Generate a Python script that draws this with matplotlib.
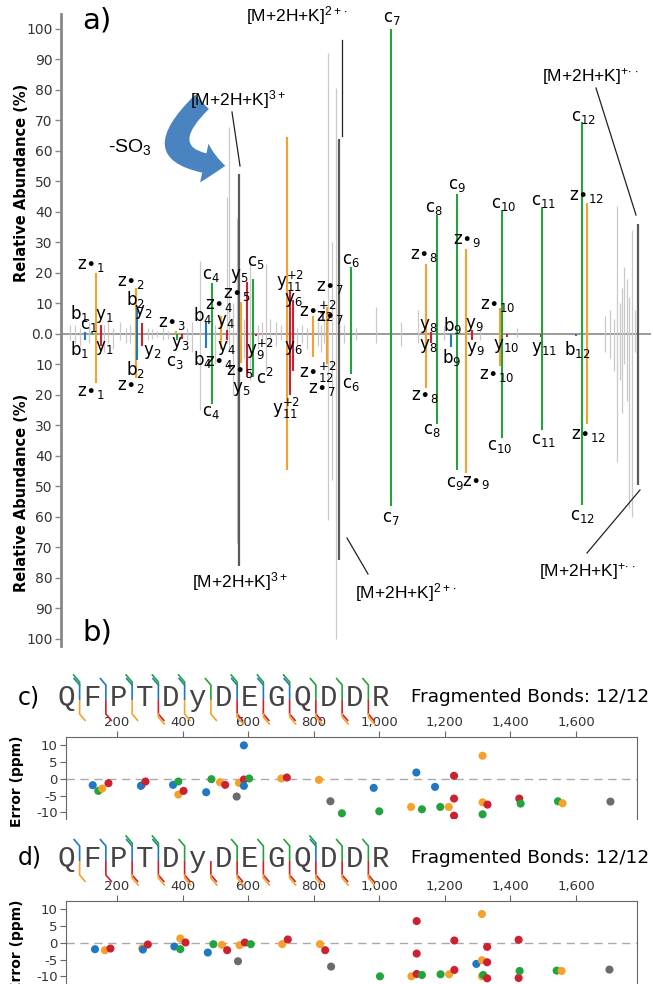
import numpy as np
import matplotlib.pyplot as plt
from matplotlib.patches import FancyArrowPatch

plt.rcParams['font.family'] = ['DejaVu Sans']
plt.rcParams['mathtext.default'] = 'regular'

# ion type colours
COL = {'b': '#1f78c1', 'c': '#22a33c', 'y': '#cc2131', 'z': '#f7a12d'}
GRAY = '#c9c9c9'
DARK = '#5a5a5a'

# ---- a) / b) mirrored spectrum (m/z, relative abundance) ----
ion_mz = [130, 150, 161, 175, 275, 278, 292, 389, 392, 406, 474, 491, 517, 534,
          574, 591, 608, 616, 705, 713, 722, 779, 818, 887, 1000, 1100, 1114, 1131,
          1171, 1188, 1214, 1231, 1311, 1316, 1330, 1427, 1430, 1527, 1544, 1558]
ion_type = ['b', 'c', 'z', 'y', 'z', 'b', 'y', 'z', 'c', 'y', 'b', 'c', 'z', 'y',
            'z', 'y', 'c', 'y', 'z', 'y', 'y', 'z', 'z', 'c', 'c', 'z', 'y', 'c',
            'b', 'c', 'z', 'y', 'z', 'c', 'y', 'y', 'c', 'b', 'c', 'z']
ion_top = [0.5, 0.5, 20, 3, 15, 8.5, 3.5, 1, 0, 0, 4, 16.7, 6, 1.2,
           10.5, 17, 18, 0, 64.5, 14.5, 11, 6, 9, 22, 100, 23, 0.8, 39,
           0, 46, 28, 1.2, 8.5, 40.5, 0, 0, 41.5, 0, 69.5, 43]
ion_bot = [-2, 0, -16, -4, -14.5, -8.5, -4, 0, -2, -1.5, -4.5, -23, -5, -2,
           -9.5, -14, -14, -0.6, -44.5, -20, -12, -7.5, -10, -13, -56.5, -17.7, -3, -29.5,
           -4.3, -44.5, -45.5, -2, -10.5, -34, -1, -1, -31.5, -0.8, -56, -29.5]

prec_mz = [568, 852, 1703]
prec_top = [52.5, 64, 36]
prec_bot = [-76, -74, -49.5]

noise_mz = [87, 101, 116, 141, 184, 195, 210, 229, 247, 258, 309, 320, 335, 352, 366,
            420, 434, 457, 500, 534, 540, 551, 562, 582, 599, 622, 633, 645, 656, 673,
            687, 733, 747, 761, 793, 801, 810, 821, 833, 844, 867, 901, 958, 1029, 1077,
            1151, 1254, 1359, 1609, 1624, 1635, 1644, 1652, 1658, 1663, 1672, 1678, 1686, 1695]
noise_top = [3, 3, 2, 4, 3, 5, 2, 4, 2, 3, 2, 1.5, 1, 2, 1,
             2, 4, 24, 3, 45, 68, 10, 38, 5, 23, 3, 4, 23, 5, 4,
             3, 2, 3, 2, 4, 3, 5, 92, 30, 80.6, 3, 2, 9, 4, 8,
             3, 2, 2, 6, 8, 5, 42, 10, 15, 22, 18, 12, 34, 8]
noise_bot = [-2, -3, -4, -3, -6, -3, -5, -2, -3, -3, -2, -1.5, -1, -2, -1.5,
             -2, -6, -25, -10, -3, -5, -20, -68.5, -8, -15, -5, -3, -12, -4, -4,
             -2, -4, -3, -5, -4, -6, -3, -61, -48, -100, -3, -2, -3, -4, -3,
             -2, -2, -1, -6, -8, -12, -42, -15, -26, -10, -22, -57, -60, -6]

# ---- c) / d) sequence coverage ----
sequence = list('QFPTDyDEGQDDR')
c_nterm = ['cb', 'b', 'cb', 'cb', 'cb', 'c', 'cb', 'cb', 'cb', 'c', 'c', 'c']
c_cterm = ['z', 'y', 'z', 'yz', 'z', 'z', 'yz', 'yz', 'yz', 'yz', 'yz', 'yz']
d_nterm = ['b', 'b', 'cb', 'cb', 'c', '', 'c', 'c', 'c', 'cb', 'c', 'c']
d_cterm = ['z', 'y', 'yz', 'yz', 'yz', 'yz', 'yz', 'yz', 'yz', 'yz', 'yz', 'yz']

# ---- mass errors (m/z, ppm, ion type; 'p' = precursor) ----
c_err_mz = [126, 143, 155, 174, 276, 273, 287, 371, 387, 387, 403, 472, 488, 514, 530,
            565, 572, 587, 587, 587, 603, 701, 718, 816, 851, 886, 983, 1000, 1097, 1113,
            1130, 1170, 1186, 1212, 1228, 1228, 1228, 1315, 1315, 1315, 1330, 1427, 1431,
            1545, 1559, 1705]
c_err_ppm = [-1.9, -3.6, -2.9, -1.3, -1.8, -2.1, -0.8, -1.8, -4.7, -0.8, -3.6, -4.0, -0.1, -1.0, -1.8,
             -5.3, -1.2, -0.2, -2.1, 10.0, 0.1, 0.1, 0.4, -0.3, -6.7, -10.3, -2.7, -9.7, -8.4, 1.9,
             -9.1, -2.4, -8.4, -8.4, 0.9, -5.9, -11.0, 6.9, -7.0, -10.6, -7.7, -5.9, -7.4,
             -6.7, -7.3, -6.8]
c_err_type = ['b', 'c', 'z', 'y', 'z', 'b', 'y', 'b', 'z', 'c', 'y', 'b', 'c', 'z', 'y',
              'p', 'z', 'y', 'b', 'b', 'c', 'z', 'y', 'z', 'p', 'c', 'b', 'c', 'z', 'b',
              'c', 'b', 'c', 'z', 'y', 'y', 'y', 'z', 'z', 'c', 'y', 'y', 'c',
              'c', 'z', 'p']

d_err_mz = [133, 163, 180, 277, 279, 294, 375, 393, 393, 409, 477, 494, 520, 536, 569,
            574, 590, 608, 704, 721, 819, 835, 853, 1002, 1098, 1114, 1114, 1114, 1130, 1187,
            1213, 1229, 1229, 1296, 1313, 1313, 1313, 1317, 1329, 1329, 1329, 1425, 1425, 1428,
            1541, 1556, 1702]
d_err_ppm = [-1.9, -2.2, -1.7, -1.6, -2.0, -0.5, -1.1, 1.3, -1.9, 0.1, -2.9, -0.4, -0.6, -2.2, -5.5,
             -0.7, 0.1, -0.4, -0.4, 1.0, -0.4, -2.2, -7.1, -10.0, -10.0, 6.5, -3.2, -9.3, -9.6, -9.4,
             -9.4, -8.1, 0.7, -6.3, 8.6, -5.2, -10.0, -9.6, -1.2, -5.8, -10.6, 0.9, -10.5, -8.4,
             -8.3, -8.4, -8.0]
d_err_type = ['b', 'z', 'y', 'z', 'b', 'y', 'b', 'z', 'c', 'y', 'b', 'c', 'z', 'y', 'p',
              'z', 'y', 'c', 'z', 'y', 'z', 'y', 'p', 'c', 'z', 'y', 'y', 'y', 'c', 'c',
              'z', 'y', 'y', 'b', 'z', 'z', 'z', 'c', 'y', 'y', 'y', 'y', 'y', 'c',
              'c', 'z', 'p']

err_ticks = [200, 400, 600, 800, 1000, 1200, 1400, 1600]


def zl(n):
    return r'z$\bullet_{%s}$' % n


def il(t, n):
    return r'%s$_{%s}$' % (t, n)


# peak labels (text, x px, y px)
peak_labels = [
    (zl('1'), 91, 265), (zl('1'), 91, 392), (il('b', '1'), 80, 313), (il('b', '1'), 80, 350),
    (il('c', '1'), 89, 325), (il('y', '1'), 104, 316), (il('y', '1'), 104, 348),
    (zl('2'), 131, 282), (zl('2'), 131, 386), (il('b', '2'), 135, 300), (il('b', '2'), 135, 370),
    (il('y', '2'), 143, 312), (il('y', '2'), 152, 352), (zl('3'), 172, 323),
    (il('y', '3'), 180, 344), (il('c', '3'), 175, 362),
    (il('b', '4'), 203, 316), (il('b', '4'), 203, 360), (il('c', '4'), 211, 275), (il('c', '4'), 211, 412),
    (zl('4'), 219, 305), (zl('4'), 219, 362), (il('y', '4'), 225, 322), (il('y', '4'), 226, 348),
    (zl('5'), 237, 294), (zl('5'), 240, 371), (il('y', '5'), 239, 276), (il('y', '5'), 241, 389),
    (il('c', '5'), 256, 262), (r'c$^{2}$', 265, 378), (r'y$_{9}^{+2}$', 260, 349),
    (r'y$_{11}^{+2}$', 290, 281), (r'y$_{11}^{+2}$', 286, 408),
    (il('y', '6'), 293, 300), (il('y', '6'), 293, 348),
    (r'z$\bullet_{12}^{+2}$', 318, 311), (r'z$\bullet_{12}^{+2}$', 318, 372),
    (zl('7'), 330, 287), (zl('7'), 330, 317), (zl('7'), 322, 389),
    (il('c', '6'), 351, 260), (il('c', '6'), 351, 384),
    (il('c', '7'), 392, 18), (il('c', '7'), 391, 518),
    (zl('8'), 424, 255), (zl('8'), 425, 396), (il('y', '8'), 428, 326), (il('y', '8'), 428, 346),
    (il('c', '8'), 434, 208), (il('c', '8'), 432, 430),
    (il('b', '9'), 453, 326), (il('b', '9'), 452, 358),
    (il('c', '9'), 457, 185), (il('c', '9'), 455, 483),
    (il('y', '9'), 474, 325), (il('y', '9'), 475, 349),
    (zl('9'), 467, 240), (zl('9'), 476, 482),
    (il('c', '10'), 504, 204), (il('c', '10'), 500, 446),
    (zl('10'), 498, 305), (zl('10'), 497, 375), (il('y', '10'), 506, 346),
    (il('c', '11'), 544, 201), (il('c', '11'), 544, 440), (il('y', '11'), 544, 349),
    (il('b', '12'), 577, 349), (il('c', '12'), 583, 117), (il('c', '12'), 582, 516),
    (zl('12'), 586, 196), (zl('12'), 588, 435),
]

prec_labels = [
    (r'[M+2H+K]$^{2+\!\bullet}$', 297, 16), (r'[M+2H+K]$^{3+}$', 238, 100),
    (r'[M+2H+K]$^{+\!\bullet\!\bullet}$', 590, 77), (r'[M+2H+K]$^{3+}$', 240, 582),
    (r'[M+2H+K]$^{2+\!\bullet}$', 406, 593), (r'[M+2H+K]$^{+\!\bullet\!\bullet}$', 587, 572),
]
leaders = [((232, 112), (240, 166)), ((342, 40), (342, 136)), ((596, 88), (636, 215)),
           ((347, 538), (368, 574)), ((640, 490), (587, 553))]

fig = plt.figure(figsize=(6.53, 9.84), dpi=100)

# main mirrored spectrum
ax = fig.add_axes([61 / 653, (984 - 646) / 984, 590 / 653, 632 / 984])
ax.vlines(noise_mz, 0, noise_top, color=GRAY, lw=0.9)
ax.vlines(noise_mz, noise_bot, 0, color=GRAY, lw=0.9)
ax.vlines(prec_mz, 0, prec_top, color=DARK, lw=1.6)
ax.vlines(prec_mz, prec_bot, 0, color=DARK, lw=1.6)
cols = [COL[t] for t in ion_type]
ax.vlines(ion_mz, 0, ion_top, color=cols, lw=1.5)
ax.vlines(ion_mz, ion_bot, 0, color=cols, lw=1.5)
ax.axhline(0, color='#8a8a8a', lw=1.2, zorder=0)
ax.set_xlim(62, 1740)
ax.set_ylim(-102.3, 104.9)
yt = list(range(-100, 101, 10))
ax.set_yticks(yt)
ax.set_yticklabels(['0.0' if v == 0 else str(abs(v)) for v in yt], fontsize=10, color='#333333')
ax.set_xticks([])
for s in ['top', 'right', 'bottom']:
    ax.spines[s].set_visible(False)
ax.spines['left'].set_color('#888888')
ax.spines['left'].set_linewidth(2)
ax.tick_params(axis='y', length=4, width=1, color='#888888', pad=2)

fig.text(22 / 653, 1 - 183 / 984, 'Relative Abundance (%)', rotation=90, ha='center', va='center',
         fontsize=10.5, fontweight='bold')
fig.text(22 / 653, 1 - 493 / 984, 'Relative Abundance (%)', rotation=90, ha='center', va='center',
         fontsize=10.5, fontweight='bold')


def err_axes(top_px, mz, ppm, types):
    e = fig.add_axes([66 / 653, (984 - top_px - 82) / 984, 571 / 653, 82 / 984])
    e.axhline(0, color='#aaaaaa', lw=1, ls=(0, (6, 4)), zorder=0)
    ecols = [COL.get(t, '#6b6b6b') for t in types]
    e.scatter(mz, ppm, s=34, c=ecols, edgecolors='none', zorder=3)
    e.set_xlim(44.5, 1786)
    e.set_ylim(-12, 12.5)
    e.xaxis.tick_top()
    e.set_xticks(err_ticks)
    e.set_xticklabels(['{:,}'.format(v) for v in err_ticks], fontsize=9.5, color='#333333')
    e.set_yticks([10, 5, 0, -5, -10])
    e.set_yticklabels(['10', '5', '0', '-5', '-10'], fontsize=9.5, color='#333333')
    e.tick_params(length=4, color='#666666', pad=2)
    for s in e.spines.values():
        s.set_color('#666666')
    e.spines['bottom'].set_visible(False)
    fig.text(17 / 653, 1 - (top_px + 44) / 984, 'Error (ppm)', rotation=90, ha='center', va='center',
             fontsize=10, fontweight='bold')
    return e


err_axes(737, c_err_mz, c_err_ppm, c_err_type)
err_axes(901, d_err_mz, d_err_ppm, d_err_type)

# overlay in pixel coordinates for annotations
ov = fig.add_axes([0, 0, 1, 1])
ov.set_xlim(0, 653)
ov.set_ylim(984, 0)
ov.axis('off')
ov.patch.set_alpha(0)

for txt, x, y in peak_labels:
    ov.text(x, y, txt, ha='center', va='center', fontsize=12)
for txt, x, y in prec_labels:
    ov.text(x, y, txt, ha='center', va='center', fontsize=12.5, family='Liberation Sans')
for (x1, y1), (x2, y2) in leaders:
    ov.plot([x1, x2], [y1, y2], color='#222222', lw=0.9)

ov.text(82, 20, 'a)', fontsize=21, ha='left', va='center')
ov.text(82, 632, 'b)', fontsize=21, ha='left', va='center')
ov.text(130, 147, r'-SO$_3$', fontsize=14, ha='center', va='center', family='Liberation Sans')
arrow = FancyArrowPatch((204, 100), (228, 166), connectionstyle='arc3,rad=1.15',
                        arrowstyle='simple,head_length=0.8,head_width=1.5,tail_width=0.75',
                        mutation_scale=19, color='#4a84c0', lw=0)
ov.add_patch(arrow)


def draw_sequence(yc, nterm, cterm, tag):
    ov.text(18, yc, tag, fontsize=17, ha='left', va='center')
    for i, aa in enumerate(sequence):
        ov.text(66 + i * 26.25, yc + 1, aa, fontsize=21, ha='center', va='center',
                family='Liberation Mono', color='#444444')
    for i in range(len(nterm)):
        x0 = 66 + (i + 0.5) * 26.25 + 0.5
        n, c = nterm[i], cterm[i]
        if n:
            inner = 'b' if 'b' in n else 'c'
            ov.plot([x0 - 6, x0, x0, x0], [yc - 19, yc - 12, yc - 12, yc + 3], color=COL[inner], lw=1.2,
                    solid_capstyle='butt')
            if len(n) == 2:
                ov.plot([x0 - 6, x0, x0], [yc - 22, yc - 15, yc - 12], color=COL['c'], lw=1.2)
        if c:
            inner = 'y' if 'y' in c else 'z'
            ov.plot([x0, x0, x0 + 6], [yc + 3, yc + 17, yc + 24], color=COL[inner], lw=1.2,
                    solid_capstyle='butt')
            if len(c) == 2:
                ov.plot([x0, x0, x0 + 6], [yc + 17, yc + 20, yc + 27], color=COL['z'], lw=1.2)
    ov.text(411, yc, 'Fragmented Bonds: 12/12', fontsize=13.2, ha='left', va='center')


draw_sequence(697, c_nterm, c_cterm, 'c)')
draw_sequence(858, d_nterm, d_cterm, 'd)')

fig.savefig('out.png', dpi=100)
